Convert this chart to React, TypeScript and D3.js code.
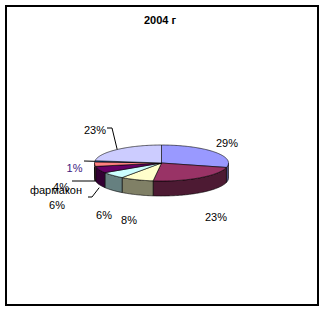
import React from 'react';
import * as d3 from 'd3';

// ---- data ----
const title = "2004 г";
const values = [29, 23, 8, 6, 6, 4, 1, 23];
const categoryLabels = ["", "", "", "", "фармакон", "", "", ""];
const colors = ["#9999FF", "#993366", "#FFFFCC", "#CCFFFF", "#660066", "#FF8080", "#0066CC", "#CCCCFF"];
const labelColors = ["#000", "#000", "#000", "#000", "#000", "#000", "#402080", "#000"];

// ---- layout ----
const W = 325, H = 311;
const cx = 161.5, cy = 163, rx = 67, ry = 18, depth = 15;
const labelPos: [number, number][] = [[227, 143], [216, 217], [129, 220], [104, 215], [57, 205], [61, 187], [74.5, 168], [95, 130]];
const namePos: ([number, number] | null)[] = [null, null, null, null, [56, 190], null, null, null];
// leader lines: [startDy, ...points]
const leaders: ({ dy: number; pts: [number, number][] } | null)[] = [
  null, null, null, null,
  { dy: depth + 3, pts: [[92, 197], [88, 197]] },
  { dy: 3, pts: [[95, 181], [72, 181]] },
  { dy: 0, pts: [[84, 161]] },
  { dy: 0, pts: [[112, 128], [107, 128]] },
];

const FONT = "Arial, 'Liberation Sans', sans-serif";

function pt(a: number, off = 0): [number, number] {
  return [cx + rx * Math.sin(a), cy - ry * Math.cos(a) + off];
}
function arcPts(a0: number, a1: number, off = 0): [number, number][] {
  const n = Math.max(2, Math.ceil(Math.abs(a1 - a0) / 0.02));
  const out: [number, number][] = [];
  for (let i = 0; i <= n; i++) out.push(pt(a0 + (a1 - a0) * (i / n), off));
  return out;
}
function darken(c: string) {
  const r = d3.rgb(c);
  return d3.rgb(r.r * 0.5, r.g * 0.5, r.b * 0.5).formatHex();
}

export default function App() {
  const total = d3.sum(values);
  const arcs = d3.pie<number>().sort(null).value(d => d).startAngle(0).endAngle(2 * Math.PI)(values);
  const line = d3.line();

  const sides = arcs.map((a, i) => {
    const s0 = Math.max(a.startAngle, Math.PI / 2);
    const s1 = Math.min(a.endAngle, 3 * Math.PI / 2);
    if (s0 >= s1) return null;
    const pts = [...arcPts(s0, s1, 0), ...arcPts(s1, s0, depth)];
    return <path key={'s' + i} d={line(pts)! + 'Z'} fill={darken(colors[i])} stroke="#000" strokeWidth={0.6} strokeLinejoin="round" />;
  });

  const tops = arcs.map((a, i) => {
    const pts: [number, number][] = [[cx, cy], ...arcPts(a.startAngle, a.endAngle, 0)];
    return <path key={'t' + i} d={line(pts)! + 'Z'} fill={colors[i]} stroke="#000" strokeWidth={0.6} strokeLinejoin="round" />;
  });

  const leaderEls = arcs.map((a, i) => {
    const l = leaders[i];
    if (!l) return null;
    const mid = (a.startAngle + a.endAngle) / 2;
    const p0 = pt(mid, l.dy);
    return <path key={'l' + i} d={line([p0, ...l.pts])!} fill="none" stroke="#000" strokeWidth={1} />;
  });

  const labels = arcs.map((a, i) => {
    const pct = Math.round((values[i] / total) * 100) + '%';
    const [x, y] = labelPos[i];
    const np = namePos[i];
    return (
      <g key={'lab' + i}>
        {np && categoryLabels[i] ? (
          <text x={np[0]} y={np[1]} dy="0.35em" textAnchor="middle" fontFamily={FONT} fontSize={11} fill={labelColors[i]}>{categoryLabels[i]}</text>
        ) : null}
        <text x={x} y={y} dy="0.35em" textAnchor="middle" fontFamily={FONT} fontSize={11} fill={labelColors[i]}>{pct}</text>
      </g>
    );
  });

  return (
    <svg width={W} height={H} style={{ position: 'absolute', left: 0, top: 0, background: '#fff' }}>
      <rect x={0} y={0} width={W} height={H} fill="#fff" />
      <rect x={6} y={6} width={312} height={299} fill="#fff" stroke="#000" strokeWidth={2} />
      <text x={160} y={20} dy="0.35em" textAnchor="middle" fontFamily={FONT} fontSize={11} fontWeight="bold">{title}</text>
      {sides}
      {tops}
      {leaderEls}
      {labels}
    </svg>
  );
}
